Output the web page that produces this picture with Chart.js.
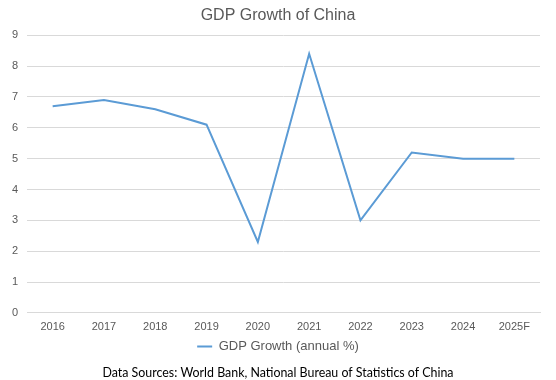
<!DOCTYPE html>
<html>
<head>
<meta charset="utf-8">
<script src="https://cdn.jsdelivr.net/npm/chart.js@4/dist/chart.umd.min.js"></script>
<style>
html,body{margin:0;padding:0;background:#fff;}
#wrap{width:556px;height:380px;}
</style>
</head>
<body>
<div id="wrap"><canvas id="c" width="556" height="380"></canvas></div>
<script>
const categories = ["2016","2017","2018","2019","2020","2021","2022","2023","2024","2025F"];
const gdpGrowth = [6.7, 6.9, 6.6, 6.1, 2.3, 8.4, 3.0, 5.2, 5.0, 5.0];
const yTicks = [0,1,2,3,4,5,6,7,8,9];
const seriesName = "GDP Growth (annual %)";
const titleText = "GDP Growth of China";
const footerText = "Data Sources: World Bank, National Bureau of Statistics of China";

new Chart(document.getElementById('c'), {
  type: 'line',
  data: {
    labels: categories,
    datasets: [{
      label: seriesName,
      data: gdpGrowth,
      borderColor: '#5b9bd5',
      backgroundColor: '#5b9bd5',
      borderWidth: 2,
      pointRadius: 0,
      tension: 0,
      fill: false
    }]
  },
  options: {
    responsive: false,
    animation: false,
    devicePixelRatio: 1,
    layout: { padding: { left: 9, right: 9, top: 5, bottom: 0 } },
    plugins: {
      title: {
        display: true, text: titleText, color: '#595959',
        font: { family: 'Liberation Sans, Arial', size: 16, weight: 'normal' },
        padding: { top: 1, bottom: 10 }
      },
      subtitle: {
        display: true, text: footerText, position: 'bottom', color: '#000',
        font: { family: 'Lato', size: 12.4, weight: 'normal' },
        padding: { top: 2, bottom: 0 }
      },
      legend: {
        position: 'bottom',
        labels: {
          color: '#595959',
          font: { family: 'Liberation Sans, Arial', size: 13 },
          boxWidth: 15, boxHeight: 0, padding: 5,
          generateLabels: (chart) => [{
            text: seriesName, strokeStyle: '#5b9bd5', fillStyle: '#5b9bd5',
            lineWidth: 2, hidden: false, datasetIndex: 0, fontColor: '#595959'
          }]
        }
      },
      tooltip: { enabled: false }
    },
    scales: {
      x: {
        offset: true,
        grid: { display: false, tickLength: 5 },
        border: { display: true, color: '#d9d9d9' },
        ticks: { color: '#595959', font: { family: 'Liberation Sans, Arial', size: 11 }, maxRotation: 0, padding: 2 }
      },
      y: {
        min: 0, max: 9,
        afterBuildTicks: (axis) => { axis.ticks = yTicks.map(v => ({ value: v })); },
        afterFit: (axis) => { axis.width = 18; },
        grid: { color: '#d9d9d9', drawTicks: false },
        border: { display: false },
        ticks: { color: '#595959', font: { family: 'Liberation Sans, Arial', size: 11 }, padding: 9 }
      },
      yRight: {
        type: 'linear', position: 'right', min: 0, max: 9,
        afterFit: (axis) => { axis.width = 7; },
        grid: { display: false, drawTicks: false },
        border: { display: false },
        ticks: { display: false }
      }
    }
  }
});
</script>
</body>
</html>
